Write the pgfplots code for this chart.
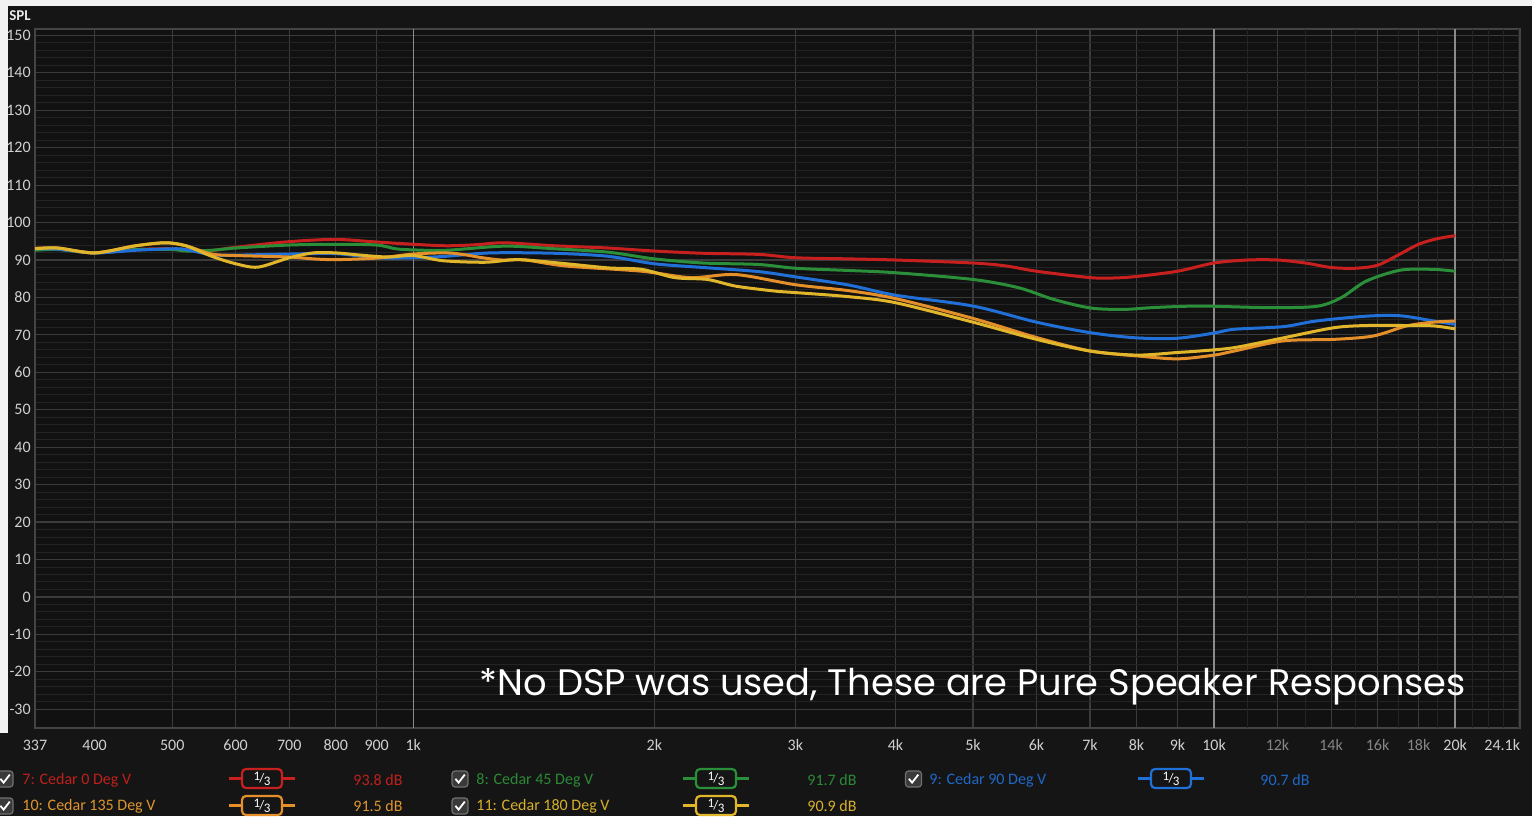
\documentclass[border=0pt]{standalone}
\usepackage{pgfplots}
\pgfplotsset{compat=1.18}
\usepackage{graphicx}
\usepackage{fontspec}
\setmainfont{Carlito}
\newfontfamily\popfont{Poppins}

\definecolor{panelbg}{HTML}{151515}
\definecolor{plotbg}{HTML}{111111}
\definecolor{outerwhite}{HTML}{F2F2F2}
\definecolor{majgrid}{HTML}{3B3B3B}
\definecolor{mingrid}{HTML}{242424}
\definecolor{axisline}{HTML}{444444}
\definecolor{brightgrid}{HTML}{8A8A8A}
\definecolor{ticklab}{HTML}{D0D0D0}
\definecolor{dimlab}{HTML}{858585}
\definecolor{splcol}{HTML}{E8E8E8}
\definecolor{chkborder}{HTML}{707070}
\definecolor{chkfill}{HTML}{3A3A3A}
\definecolor{cRed}{HTML}{C8201E}
\definecolor{cGreen}{HTML}{2A8F38}
\definecolor{cBlue}{HTML}{2070D8}
\definecolor{cOrange}{HTML}{E58F2A}
\definecolor{cYellow}{HTML}{E2B62A}
\definecolor{tRed}{HTML}{C0201C}
\definecolor{tGreen}{HTML}{2B8A36}
\definecolor{tBlue}{HTML}{1F68C8}
\definecolor{tOrange}{HTML}{E0952E}
\definecolor{tYellow}{HTML}{D8B02A}

\newcommand{\legfont}{\fontsize{8}{9}\selectfont}
\newcommand{\chk}[2]{%
  \begin{scope}[shift={(#1,#2)}]
  \draw[draw=chkborder, fill=chkfill, line width=0.6pt, rounded corners=1.5pt] (-4,-4) rectangle (4,4);
  \draw[white, line width=0.9pt] (-2.3,0.1) -- (-0.7,-1.8) -- (2.4,2.2);
  \end{scope}
}
\newcommand{\flt}[3]{%
  \begin{scope}[shift={(#1,#2)}]
  \draw[#3, line width=1.1pt] (-16.5,0) -- (-10,0) (10,0) -- (16.5,0);
  \draw[#3, line width=1.1pt, rounded corners=2pt, fill=panelbg] (-10,-4.75) rectangle (10,4.75);
  \node[text=white, font=\fontsize{6.5}{7}\selectfont, inner sep=0pt] at (0,0) {\raisebox{1.2pt}{1}\kern-0.3pt/\kern-0.3pt\raisebox{-1.2pt}{3}};
  \end{scope}
}

\pgfplotstableread{
f y
337 93.1
360 93.0
400 91.9
450 92.8
500 93.0
550 92.4
600 93.4
700 94.9
800 95.5
900 94.8
1000 94.2
1100 93.8
1200 94.1
1300 94.6
1500 93.8
1750 93.2
2000 92.4
2300 91.8
2700 91.5
3000 90.6
3500 90.3
4000 90.0
5000 89.2
5500 88.4
6000 87.0
7000 85.3
7500 85.2
8000 85.6
9000 87.0
10000 89.2
11000 90.0
12000 90.0
13000 89.2
14000 88.0
15000 87.8
16000 88.6
17000 91.4
18000 94.2
19000 95.7
20000 96.5
}\redtab

\pgfplotstableread{
f y
337 92.6
360 92.8
400 91.9
450 92.8
500 92.8
520 92.4
560 92.6
600 93.2
700 94.0
800 94.2
900 94.0
950 93.0
1000 92.7
1100 92.6
1300 93.7
1500 93.0
1750 92.1
2000 90.3
2300 89.2
2700 88.8
3000 87.8
3500 87.2
4000 86.6
5000 84.8
5700 82.6
6300 79.5
7000 77.2
7700 76.8
8400 77.3
9600 77.7
11600 77.3
13400 77.6
14400 79.9
15500 84.4
17100 87.3
18800 87.5
20000 87.0
}\greentab

\pgfplotstableread{
f y
337 93.0
360 92.9
400 91.9
450 92.6
500 93.0
520 92.8
560 91.4
600 91.3
700 91.6
800 91.7
900 90.6
1000 90.6
1100 91.0
1250 91.9
1500 91.8
1750 91.0
2000 89.0
2300 88.0
2700 86.9
3000 85.5
3500 83.3
4000 80.6
5000 77.7
6000 73.4
7000 70.6
8000 69.2
9000 69.1
10000 70.5
10600 71.5
12200 72.2
13400 73.7
15500 75.0
17100 75.1
18800 73.7
20000 72.8
}\bluetab

\pgfplotstableread{
f y
337 93.1
360 93.2
400 91.9
450 93.8
490 94.6
520 93.8
560 91.6
600 91.2
700 90.8
750 90.3
800 90.1
900 90.5
1000 91.6
1100 91.9
1160 91.4
1220 90.6
1290 90.0
1380 90.0
1550 88.4
1930 87.0
2220 85.3
2530 86.1
3000 83.4
3500 81.8
4000 79.7
5000 74.4
6000 69.3
7000 65.7
8000 64.4
9000 63.6
10000 64.6
10600 65.7
12200 68.4
14100 68.8
15800 69.7
17400 72.4
18800 73.4
20000 73.7
}\orangetab

\pgfplotstableread{
f y
337 93.0
360 93.2
400 91.9
450 93.8
490 94.6
520 93.8
560 91.0
600 89.0
640 88.1
700 90.6
750 91.9
800 91.9
860 91.3
930 90.8
1000 91.2
1090 89.8
1230 89.4
1350 90.1
1520 89.2
1750 87.9
1930 87.5
2120 85.3
2330 84.8
2530 83.0
2830 81.7
3000 81.3
3500 80.2
4000 78.6
5000 73.4
6000 68.8
7000 65.7
8000 64.6
9000 65.3
9600 65.7
10600 66.6
12200 69.2
14100 71.9
15500 72.5
17400 72.5
18800 72.4
20000 71.6
}\yellowtab

\begin{document}
\begin{tikzpicture}
\useasboundingbox (0pt,0pt) rectangle (766pt,408pt);
\begin{scope}[x=1pt,y=1pt]
\fill[panelbg] (0,0) rectangle (766,408);
\fill[outerwhite] (0,405) rectangle (766,408);
\fill[outerwhite] (0,41.5) rectangle (4,408);
\node[font=\bfseries\fontsize{7.5}{8}\selectfont, text=splcol, inner sep=0pt] at (10,400) {SPL};
\end{scope}

\begin{axis}[
  at={(17.5pt,44pt)}, anchor=south west,
  scale only axis, width=742.5pt, height=349.5pt,
  xmode=log, xmin=337, xmax=24100, ymin=-35, ymax=151.7,
  axis background/.style={fill=plotbg},
  axis line style={draw=axisline, line width=0.6pt},
  xtick={337,400,500,600,700,800,900,2000,3000,4000,5000,6000,7000,8000,9000,12000,14000,16000,18000,24100},
  xticklabels={337,400,500,600,700,800,900,2k,3k,4k,5k,6k,7k,8k,9k,{\color{dimlab}12k},{\color{dimlab}14k},{\color{dimlab}16k},{\color{dimlab}18k},{\llap{24.1k}}},
  extra x ticks={1000,10000,20000},
  extra x tick labels={1k,10k,20k},
  extra x tick style={grid=major, major grid style={draw=brightgrid, line width=0.7pt}},
  minor xtick={},
  xmajorgrids=true, xminorgrids=false,
  ytick={-30,-20,...,150},
  minor y tick num=4,
  ymajorgrids=true, yminorgrids=true,
  major grid style={draw=majgrid, line width=0.6pt},
  minor grid style={draw=mingrid, line width=0.5pt},
  major tick length=0pt, minor tick length=0pt,
  tick label style={font=\fontsize{8}{9}\selectfont, text=ticklab},
  /pgf/number format/assume math mode=true,
  xticklabel style={anchor=center, yshift=-8.5pt},
  yticklabel style={anchor=east, inner sep=0pt, xshift=-2pt},
]
% faint minor frequency grid lines above 10 kHz
\foreach \f in {11000,13000,15000,17000,19000,21000,22000,23000,24000}{
  \edef\tmp{\noexpand\draw[mingrid, line width=0.5pt] (axis cs:\f,-35) -- (axis cs:\f,151.7);}\tmp
}
\addplot[cRed, line width=1.5pt, smooth] table[x=f,y=y] {\redtab};
\addplot[cGreen, line width=1.5pt, smooth] table[x=f,y=y] {\greentab};
\addplot[cBlue, line width=1.5pt, smooth] table[x=f,y=y] {\bluetab};
\addplot[cOrange, line width=1.5pt, smooth] table[x=f,y=y] {\orangetab};
\addplot[cYellow, line width=1.5pt, smooth] table[x=f,y=y] {\yellowtab};
\end{axis}

\begin{scope}[x=1pt,y=1pt]
\node[text=white, inner sep=0pt] at (486.5,64.5) {\resizebox{493pt}{!}{\popfont *No DSP was used, These are Pure Speaker Responses}};

% legend row 1
\chk{2.5}{18.5}
\node[anchor=west, text=tRed, font=\legfont, inner sep=0pt] at (11,18) {7: Cedar 0 Deg V};
\flt{131}{18.75}{cRed}
\node[text=tRed, font=\legfont, inner sep=0pt] at (189,18) {93.8 dB};
\chk{230}{18.5}
\node[anchor=west, text=tGreen, font=\legfont, inner sep=0pt] at (238,18) {8: Cedar 45 Deg V};
\flt{358}{18.75}{cGreen}
\node[text=tGreen, font=\legfont, inner sep=0pt] at (416,18) {91.7 dB};
\chk{456.75}{18.5}
\node[anchor=west, text=tBlue, font=\legfont, inner sep=0pt] at (464.5,18) {9: Cedar 90 Deg V};
\flt{585.5}{18.75}{cBlue}
\node[text=tBlue, font=\legfont, inner sep=0pt] at (642.5,18) {90.7 dB};
% legend row 2
\chk{2.5}{5}
\node[anchor=west, text=tOrange, font=\legfont, inner sep=0pt] at (11,5) {10: Cedar 135 Deg V};
\flt{131}{5.25}{cOrange}
\node[text=tOrange, font=\legfont, inner sep=0pt] at (189,5) {91.5 dB};
\chk{230}{5}
\node[anchor=west, text=tYellow, font=\legfont, inner sep=0pt] at (238,5) {11: Cedar 180 Deg V};
\flt{358}{5.25}{cYellow}
\node[text=tYellow, font=\legfont, inner sep=0pt] at (416,5) {90.9 dB};
\end{scope}
\end{tikzpicture}
\end{document}
